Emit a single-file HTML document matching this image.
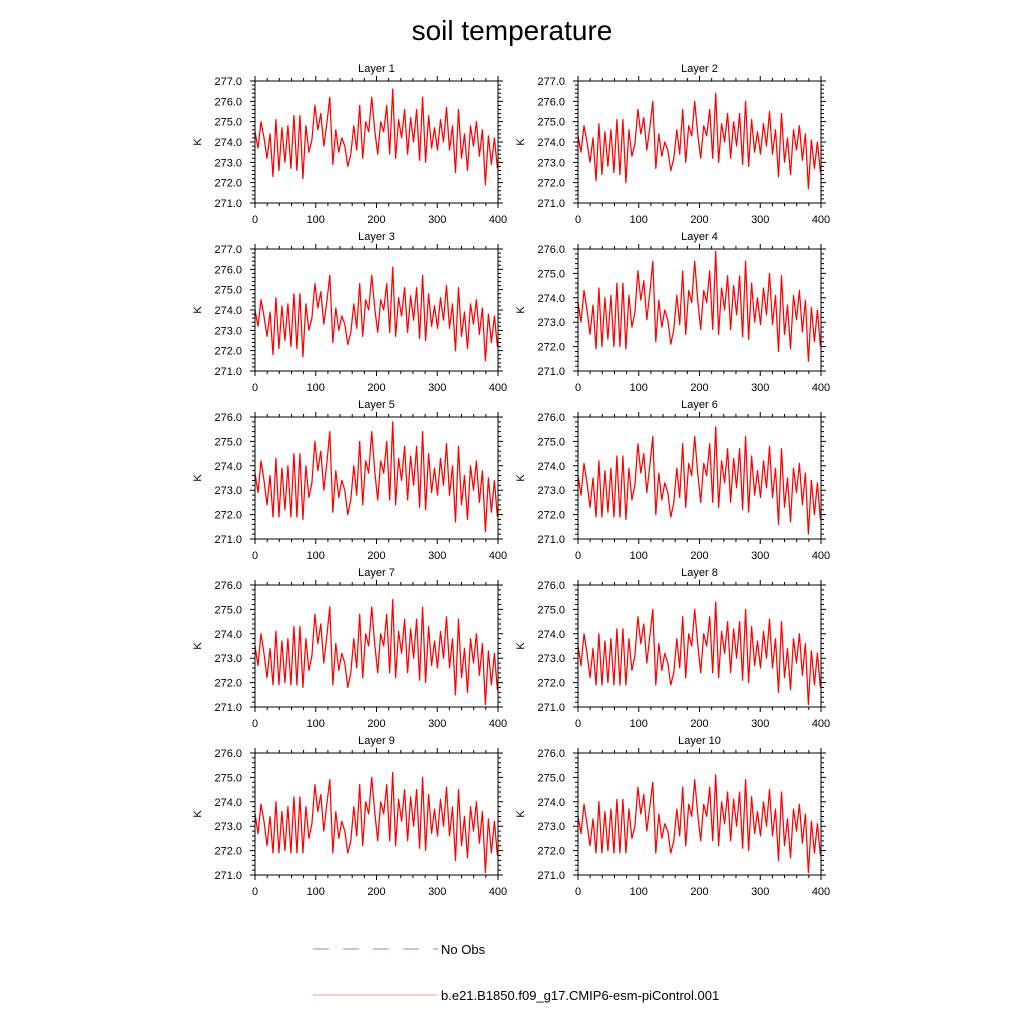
<!DOCTYPE html>
<html><head><meta charset="utf-8"><style>
html,body{margin:0;padding:0;background:#fff;}
svg{display:block;font-family:"Liberation Sans",Arial,sans-serif;}
</style></head><body>
<svg id="chart" width="1024" height="1024" viewBox="0 0 1024 1024" xmlns="http://www.w3.org/2000/svg">
<text x="512" y="40" font-size="28" text-anchor="middle">soil temperature</text>
<g id="panels"></g>
<g>
<line x1="313" y1="949" x2="438" y2="949" stroke="#8a8aee" stroke-width="1" stroke-dasharray="16,14"/>
<text x="441" y="954" font-size="13">No Obs</text>
<line x1="313" y1="995" x2="438" y2="995" stroke="#f2a0a0" stroke-width="1"/>
<text x="441" y="1000" font-size="13">b.e21.B1850.f09_g17.CMIP6-esm-piControl.001</text>
</g>
</svg>
<script>
const xTicks = [0,100,200,300,400];
const layerNames = ["Layer 1","Layer 2","Layer 3","Layer 4","Layer 5","Layer 6","Layer 7","Layer 8","Layer 9","Layer 10"];
const yMaxes = [277,277,277,276,276,276,276,276,276,276];
const yMin = 271;
const L1 = [274.5,273.7,275.0,274.2,273.2,274.4,272.3,275.1,272.6,274.7,273.0,274.8,272.7,275.3,272.6,275.3,272.2,274.8,273.5,274.1,275.8,274.6,275.4,273.8,274.9,276.2,272.9,274.6,273.5,274.2,273.8,272.8,273.4,274.8,273.6,275.8,273.2,275.0,274.5,276.2,274.6,273.4,275.0,274.5,275.8,273.4,276.6,273.2,275.1,274.2,275.6,273.4,275.2,274.0,275.6,273.1,276.2,273.0,275.3,273.7,274.7,273.6,275.1,274.0,275.7,273.6,274.8,272.5,275.6,273.2,274.4,272.6,274.8,273.8,275.0,273.3,274.6,271.9,274.3,272.9,274.2,272.7];
const L2 = [274.3,273.5,274.8,274.0,273.0,274.2,272.1,274.9,272.4,274.5,272.8,274.6,272.5,275.1,272.4,275.1,272.0,274.6,273.3,273.9,275.6,274.4,275.2,273.6,274.7,276.0,272.7,274.4,273.3,274.0,273.6,272.6,273.2,274.6,273.4,275.6,273.0,274.8,274.3,276.0,274.4,273.2,274.8,274.3,275.6,273.2,276.4,273.0,274.9,274.0,275.4,273.2,275.0,273.8,275.4,272.9,276.0,272.8,275.1,273.5,274.5,273.4,274.9,273.8,275.5,273.4,274.6,272.3,275.4,273.0,274.2,272.4,274.6,273.6,274.8,273.1,274.4,271.7,274.1,272.7,274.0,272.5];
const L3 = [274.0,273.2,274.5,273.7,272.7,273.9,271.8,274.6,272.1,274.2,272.5,274.3,272.2,274.8,272.1,274.8,271.7,274.3,273.0,273.6,275.3,274.1,274.9,273.3,274.4,275.7,272.4,274.1,273.0,273.7,273.3,272.3,272.9,274.3,273.1,275.3,272.7,274.5,274.0,275.7,274.1,272.9,274.5,274.0,275.3,272.9,276.1,272.7,274.6,273.7,275.1,272.9,274.7,273.5,275.1,272.6,275.7,272.5,274.8,273.2,274.2,273.1,274.6,273.5,275.2,273.1,274.3,272.0,275.1,272.7,273.9,272.1,274.3,273.3,274.5,272.8,274.1,271.5,273.8,272.4,273.7,272.2];
const L4 = [273.8,273.0,274.3,273.5,272.5,273.7,271.9,274.4,272.0,274.0,272.3,274.1,272.0,274.6,272.0,274.6,271.9,274.1,272.8,273.4,275.1,273.9,274.7,273.1,274.2,275.5,272.2,273.9,272.8,273.5,273.1,272.1,272.7,274.1,272.9,275.1,272.5,274.3,273.8,275.5,273.9,272.7,274.3,273.8,275.1,272.7,275.9,272.5,274.4,273.5,274.9,272.7,274.5,273.3,274.9,272.4,275.5,272.3,274.6,273.0,274.0,272.9,274.4,273.3,275.0,272.9,274.1,271.8,274.9,272.5,273.7,271.9,274.1,273.1,274.3,272.6,273.9,271.4,273.6,272.2,273.5,272.0];
const L5 = [273.7,272.9,274.2,273.4,272.4,273.6,271.9,274.3,271.9,273.9,272.2,274.0,271.9,274.5,271.9,274.5,271.8,274.0,272.7,273.3,275.0,273.8,274.6,273.0,274.1,275.4,272.1,273.8,272.7,273.4,273.0,272.0,272.6,274.0,272.8,275.0,272.4,274.2,273.7,275.4,273.8,272.6,274.2,273.7,275.0,272.6,275.8,272.4,274.3,273.4,274.8,272.6,274.4,273.2,274.8,272.3,275.4,272.2,274.5,272.9,273.9,272.8,274.3,273.2,274.9,272.8,274.0,271.7,274.8,272.4,273.6,271.8,274.0,273.0,274.2,272.5,273.8,271.3,273.5,272.1,273.4,271.9];
const L6 = [273.6,272.8,274.1,273.3,272.3,273.5,271.9,274.2,271.9,273.8,272.1,273.9,271.9,274.4,271.9,274.4,271.8,273.9,272.6,273.2,274.9,273.7,274.5,272.9,274.0,275.2,272.0,273.7,272.6,273.3,272.9,271.9,272.5,273.9,272.7,274.9,272.3,274.1,273.6,275.2,273.7,272.5,274.1,273.6,274.9,272.5,275.6,272.3,274.2,273.3,274.7,272.5,274.3,273.1,274.7,272.2,275.2,272.1,274.4,272.8,273.8,272.7,274.2,273.1,274.8,272.7,273.9,271.6,274.7,272.3,273.5,271.7,273.9,272.9,274.1,272.4,273.7,271.2,273.4,272.0,273.3,271.8];
const L7 = [273.5,272.7,274.0,273.2,272.2,273.4,271.9,274.1,271.9,273.7,272.0,273.8,271.9,274.3,271.9,274.3,271.8,273.8,272.5,273.1,274.8,273.6,274.4,272.8,273.9,275.1,271.9,273.6,272.5,273.2,272.8,271.8,272.4,273.8,272.6,274.8,272.2,274.0,273.5,275.1,273.6,272.4,274.0,273.5,274.8,272.4,275.4,272.2,274.1,273.2,274.6,272.4,274.2,273.0,274.6,272.1,275.1,272.0,274.3,272.7,273.7,272.6,274.1,273.0,274.7,272.6,273.8,271.5,274.6,272.2,273.4,271.6,273.8,272.8,274.0,272.3,273.6,271.1,273.3,271.9,273.2,271.7];
const L8 = [273.5,272.7,274.0,273.2,272.2,273.4,271.9,274.0,271.9,273.7,272.0,273.8,271.9,274.2,271.9,274.2,271.9,273.8,272.5,273.1,274.7,273.6,274.4,272.8,273.9,275.0,271.9,273.6,272.5,273.2,272.8,271.9,272.4,273.8,272.6,274.7,272.2,274.0,273.5,275.0,273.6,272.4,274.0,273.5,274.7,272.4,275.3,272.2,274.1,273.2,274.5,272.4,274.2,273.0,274.5,272.1,275.0,272.0,274.3,272.7,273.7,272.6,274.1,273.0,274.6,272.6,273.8,271.6,274.5,272.2,273.4,271.7,273.8,272.8,274.0,272.3,273.6,271.1,273.3,271.9,273.2,271.8];
const L9 = [273.5,272.7,273.9,273.2,272.2,273.4,271.9,274.0,271.9,273.6,272.0,273.8,271.9,274.2,271.9,274.2,271.9,273.8,272.5,273.1,274.7,273.6,274.3,272.8,273.9,274.9,271.9,273.6,272.5,273.2,272.8,271.9,272.4,273.8,272.6,274.7,272.2,274.0,273.5,275.0,273.6,272.4,274.0,273.5,274.7,272.4,275.2,272.2,274.1,273.2,274.5,272.4,274.2,273.0,274.5,272.1,275.0,272.0,274.3,272.7,273.7,272.6,274.1,273.0,274.6,272.6,273.8,271.6,274.5,272.2,273.4,271.7,273.8,272.8,274.0,272.3,273.6,271.1,273.3,271.9,273.2,271.8];
const L10 = [273.4,272.7,273.9,273.1,272.2,273.3,271.9,274.0,271.9,273.6,272.0,273.7,271.9,274.1,271.9,274.1,271.9,273.7,272.5,273.0,274.6,273.5,274.3,272.8,273.8,274.8,271.9,273.5,272.5,273.1,272.8,271.9,272.4,273.7,272.6,274.6,272.2,273.9,273.4,274.9,273.5,272.4,273.9,273.4,274.6,272.4,275.1,272.2,274.0,273.1,274.4,272.4,274.1,273.0,274.4,272.1,274.9,272.0,274.2,272.7,273.6,272.6,274.0,273.0,274.5,272.6,273.7,271.6,274.4,272.2,273.3,271.7,273.7,272.8,273.9,272.3,273.5,271.1,273.2,271.9,273.1,271.8];
const series = [L1,L2,L3,L4,L5,L6,L7,L8,L9,L10];

const NS = "http://www.w3.org/2000/svg";
const root = document.getElementById('panels');
function mk(tag, attrs, parent){
  const e = document.createElementNS(NS, tag);
  for (const k in attrs) e.setAttribute(k, attrs[k]);
  parent.appendChild(e);
  return e;
}
const colX = [255, 578], rowY = [81, 249, 417, 585, 753], PW = 243, PH = 122;
series.forEach((vals, i) => {
  const px = colX[i % 2], py = rowY[Math.floor(i / 2)];
  const yMax = yMaxes[i];
  const xs = v => px + v / 400 * PW;
  const ys = v => py + PH - (v - yMin) / (yMax - yMin) * PH;
  const g = mk('g', {}, root);
  
  
  const t = mk('text', {x: px + PW / 2, y: py - 9, 'font-size': 11, 'text-anchor': 'middle'}, g);
  t.textContent = layerNames[i];
  
  
  const k = mk('text', {x: 0, y: 0, 'font-size': 11, 'text-anchor': 'middle', transform: `translate(${px - 54},${py + PH / 2}) rotate(-90)`}, g);
  k.textContent = 'K';
  
  
  let d = '';
  for (let v = 0; v <= 400; v += 20) {
    const L = v % 100 === 0 ? 5 : 3, x = xs(v);
    d += `M${x},${py + PH}v${L}M${x},${py}v${-L}`;
  }
  for (let v = yMin; v <= yMax + 1e-6; v += 0.2) {
    const major = Math.abs(v - Math.round(v)) < 1e-6, L = major ? 5 : 3, y = ys(v);
    d += `M${px},${y}h${-L}M${px + PW},${y}h${L}`;
  }
  const tk = mk('path', {d: d, stroke: '#000', 'stroke-width': 1, fill: 'none'}, g);
  
  
  xTicks.forEach(v => {
    const tl = mk('text', {x: xs(v), y: py + PH + 20, 'font-size': 11, 'text-anchor': 'middle'}, g);
    tl.textContent = v;
    
    
  });
  for (let v = yMin; v <= yMax; v++) {
    const tl = mk('text', {x: px - 13, y: ys(v) + 4, 'font-size': 11, 'text-anchor': 'end'}, g);
    tl.textContent = v.toFixed(1);
    
    
  }
  const pts = vals.map((v, j) => `${xs(j * 399 / (vals.length - 1)).toFixed(1)},${ys(v).toFixed(1)}`).join(' ');
  const ln = mk('polyline', {points: pts, fill: 'none', stroke: '#ff0000', 'stroke-width': 1.25, 'stroke-linejoin': 'round'}, g);
  
  
  const fr = mk('rect', {x: px, y: py, width: PW, height: PH, fill: 'none', stroke: '#000', 'stroke-width': 1}, g);
  
  
});
</script>
</body></html>
